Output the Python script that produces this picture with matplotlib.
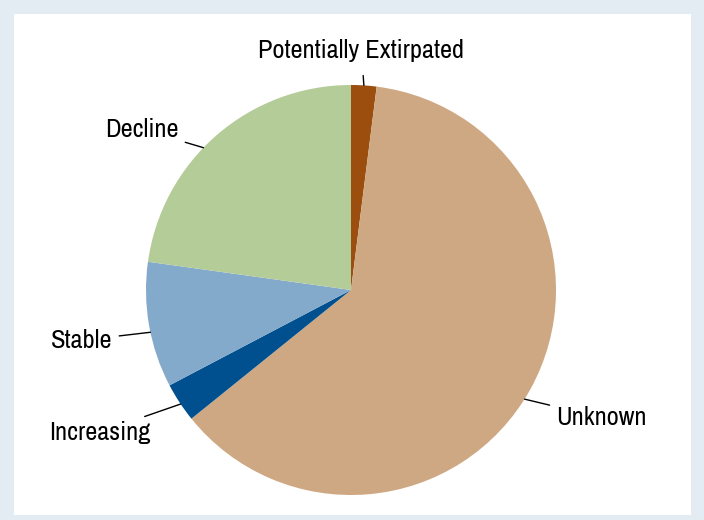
import numpy as np
import matplotlib
matplotlib.use('Agg')
import matplotlib.pyplot as plt

plt.rcParams['font.family'] = ['Archivo Narrow', 'Roboto Condensed', 'DejaVu Sans']

categories = ['Potentially Extirpated', 'Unknown', 'Increasing', 'Stable', 'Decline']
shares = [2.0, 62.2, 3.1, 9.9, 22.8]
colors = ['#9b4e0d', '#cea883', '#00508f', '#84aacb', '#b4cc98']

# label placement: (text radius, alignment, text angle shift, leader point angle shift) in degrees
label_layout = {
    'Potentially Extirpated': (1.115, 'center', 1.0, 0.0),
    'Unknown': (1.18, 'left', -2.7, -3.0),
    'Increasing': (1.20, 'right', 2.0, 0.5),
    'Stable': (1.19, 'right', 2.0, 2.0),
    'Decline': (1.15, 'right', 6.0, 5.0),
}


def main():
    fig = plt.figure(figsize=(7.04, 5.20), dpi=100)
    fig.patch.set_facecolor('#e4ecf3')

    # white panel behind the pie
    bg = fig.add_axes([14 / 704, 5 / 520, 677 / 704, 501 / 520])
    bg.set_facecolor('white')
    bg.set_xticks([])
    bg.set_yticks([])
    for s in bg.spines.values():
        s.set_visible(False)

    ax = fig.add_axes([0, 0, 1, 1])
    ax.patch.set_alpha(0)
    wedges, _ = ax.pie(shares, colors=colors, startangle=90, counterclock=False,
                       radius=1.0, wedgeprops=dict(linewidth=0))
    ax.set_xlim(-351 / 205, (704 - 351) / 205)
    ax.set_ylim(-230 / 205, 290 / 205)
    ax.axis('off')

    for w, name in zip(wedges, categories):
        mid = (w.theta1 + w.theta2) / 2
        r_text, ha, t_shift, p_shift = label_layout[name]
        t = np.deg2rad(mid + t_shift)
        p = np.deg2rad(mid + p_shift)
        xy = (np.cos(p), np.sin(p))
        xyt = (r_text * np.cos(t), r_text * np.sin(t))
        va = 'bottom' if ha == 'center' else 'center'
        shrink = 8 if ha == 'center' else 3
        ax.annotate(name, xy=xy, xytext=xyt, ha=ha, va=va, fontsize=19,
                    arrowprops=dict(arrowstyle='-', color='black', lw=1.0,
                                    shrinkA=shrink, shrinkB=0))

    fig.savefig('out.png', dpi=100, facecolor=fig.get_facecolor())


if __name__ == '__main__':
    main()
